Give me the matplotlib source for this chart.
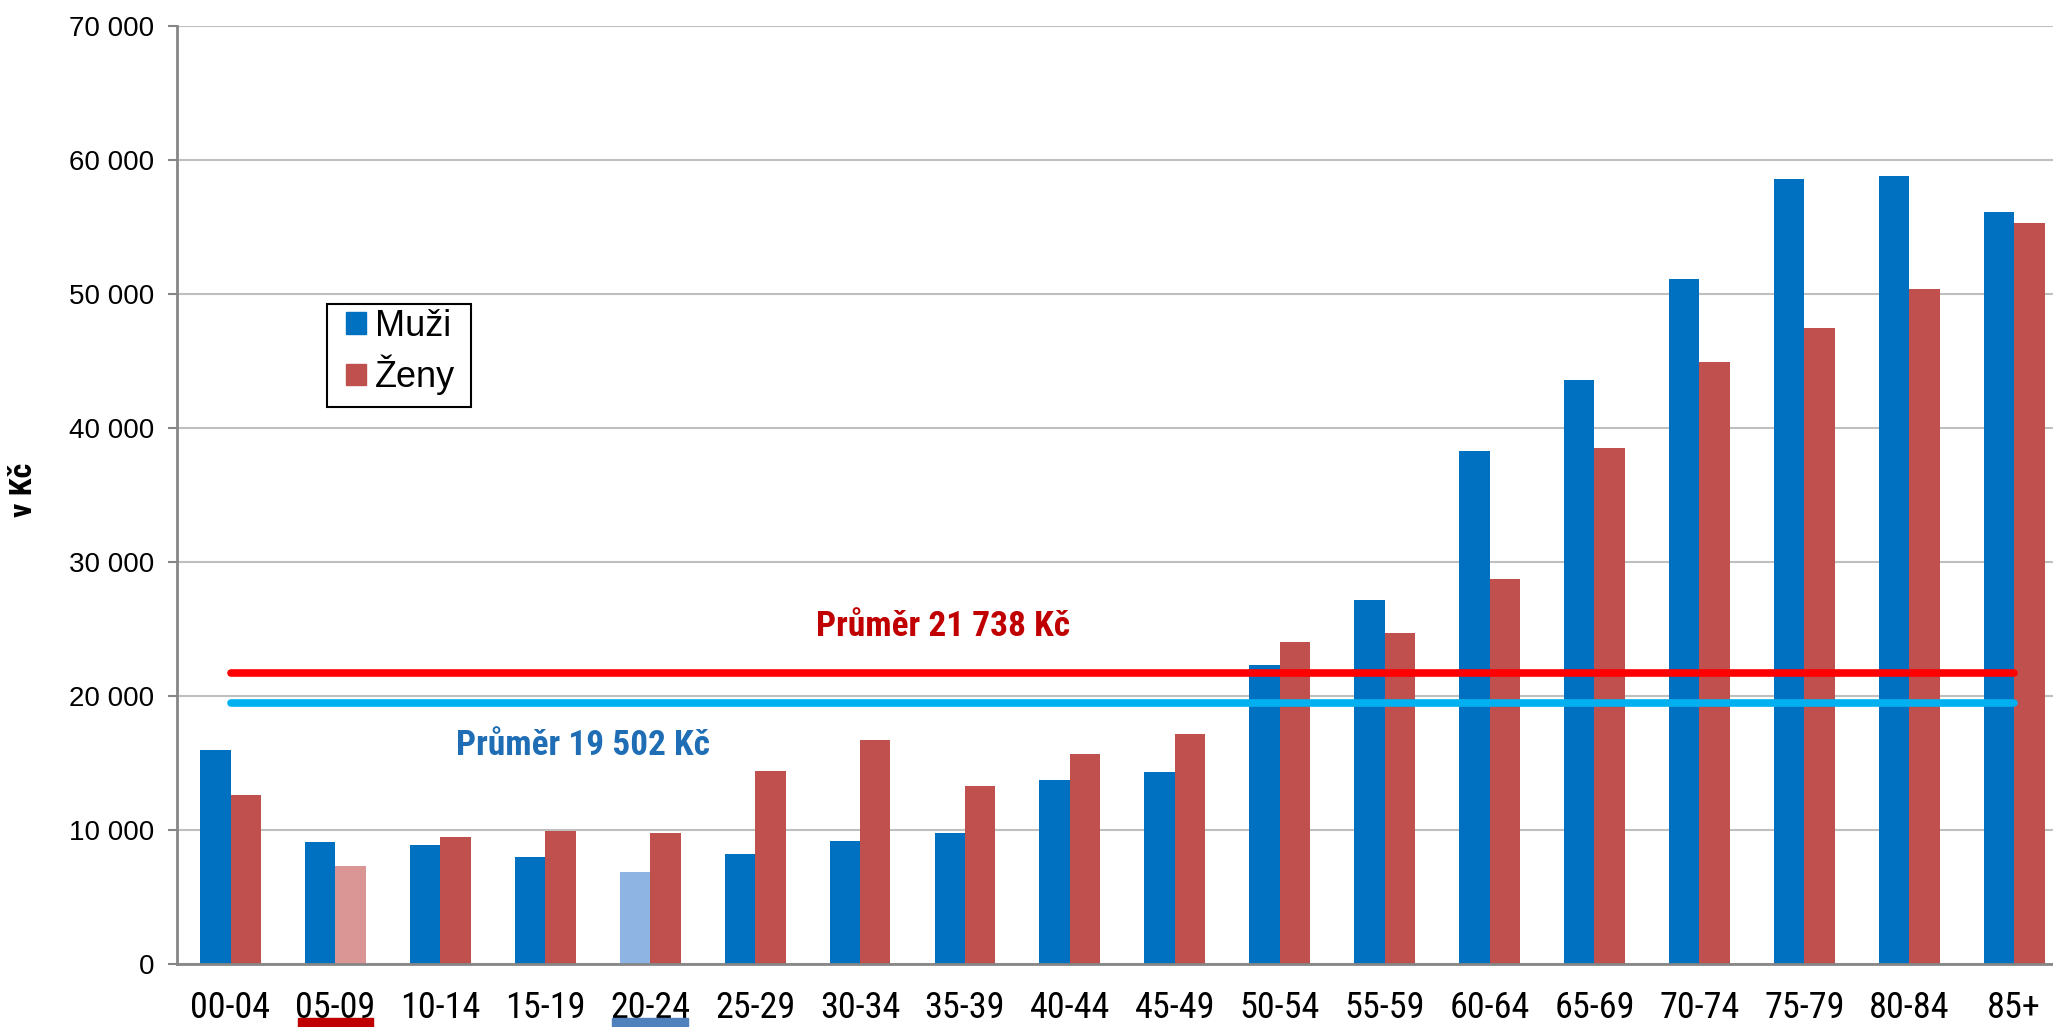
import numpy as np
import matplotlib
matplotlib.use("Agg")
import matplotlib.pyplot as plt
import matplotlib.transforms as mtransforms
from matplotlib.patches import Rectangle

# data
kategorie = ["00-04", "05-09", "10-14", "15-19", "20-24", "25-29", "30-34", "35-39",
             "40-44", "45-49", "50-54", "55-59", "60-64", "65-69", "70-74", "75-79",
             "80-84", "85+"]
muzi = [16000, 9100, 8900, 8000, 6900, 8200, 9200, 9800, 13700, 14300,
        22300, 27200, 38300, 43600, 51100, 58600, 58800, 56100]
zeny = [12600, 7300, 9500, 9900, 9800, 14400, 16700, 13300, 15700, 17200,
        24000, 24700, 28700, 38500, 44900, 47500, 50400, 55300]
prumer_zeny = 21738
prumer_muzi = 19502
yticks = [0, 10000, 20000, 30000, 40000, 50000, 60000, 70000]

MODRA = "#0070C0"
CERVENA = "#C0504D"
MODRA_SVETLA = "#8DB4E2"
CERVENA_SVETLA = "#DA9694"

NARROW = ["Liberation Sans Narrow", "Arial Narrow", "Roboto Condensed", "Archivo Narrow",
          "IBM Plex Sans Condensed", "DejaVu Sans"]
ARIAL = ["Liberation Sans", "Arimo", "DejaVu Sans"]

W, H = 2053, 1027
fig = plt.figure(figsize=(W / 100, H / 100), dpi=100)
ax = fig.add_axes([177 / W, (1027 - 964) / H, 1 - 177 / W, 938 / H])

x = np.arange(len(kategorie))
bw = 0.29
barvy_m = [MODRA_SVETLA if k == "20-24" else MODRA for k in kategorie]
barvy_z = [CERVENA_SVETLA if k == "05-09" else CERVENA for k in kategorie]
ax.bar(x - bw / 2, muzi, bw, color=barvy_m, zorder=2)
ax.bar(x + bw / 2, zeny, bw, color=barvy_z, zorder=2)

# prumery
ax.plot([x[0], x[-1]], [prumer_zeny] * 2, color="#FF0000", lw=5.5,
        solid_capstyle="round", zorder=3)
ax.plot([x[0], x[-1]], [prumer_muzi] * 2, color="#00B0F0", lw=5.5,
        solid_capstyle="round", zorder=3)
ax.text(6.79, 25200, "Průměr 21 738 Kč", color="#C00000", fontsize=25.5,
        fontweight="bold", family=NARROW, ha="center", va="center")
ax.text(3.36, 16270, "Průměr 19 502 Kč", color="#1F6EB5", fontsize=25.5,
        fontweight="bold", family=NARROW, ha="center", va="center")

ax.set_xlim(-0.51, 17.37)
ax.set_ylim(0, 70000)
ax.set_yticks(yticks)
ax.set_yticklabels([f"{v:,}".replace(",", " ") for v in yticks])
ax.set_xticks(x)
ax.set_xticklabels(kategorie)
ax.tick_params(axis="x", length=0, pad=19, labelsize=26)
ax.tick_params(axis="y", length=6.5, width=1.5, color="#868686", pad=10, labelsize=20)
for lab in ax.get_xticklabels():
    lab.set_family(NARROW)
for lab in ax.get_yticklabels():
    lab.set_family(ARIAL)
ax.grid(axis="y", color="#BFBFBF", lw=1.5, zorder=0)
ax.set_axisbelow(True)
for s in ["top", "right"]:
    ax.spines[s].set_visible(False)
for s in ["left", "bottom"]:
    ax.spines[s].set_color("#868686")
    ax.spines[s].set_linewidth(2)

ax.set_ylabel("v Kč", family=NARROW, fontweight="bold", fontsize=23)
ax.yaxis.set_label_coords((38 - 177) / (W - 177), (964 - 490) / 938)

# podtrzeni popisku
tr = mtransforms.blended_transform_factory(ax.transData, fig.transFigure)
for idx, c in [(1, "#C00000"), (4, "#4F81BD")]:
    ax.add_patch(Rectangle((x[idx] - 0.36, 0), 0.72, 9 / H, transform=tr,
                           color=c, clip_on=False))

# legenda bez ramecku + vlastni ramecek
h1 = Rectangle((0, 0), 1, 1, color=MODRA)
h2 = Rectangle((0, 0), 1, 1, color=CERVENA)
leg = ax.legend([h1, h2], ["Muži", "Ženy"], loc="upper left",
                bbox_to_anchor=(346 / W, 1 - 309 / H), bbox_transform=fig.transFigure,
                borderaxespad=0, prop={"family": ARIAL, "size": 26},
                handlelength=0.55, handleheight=0.55, handletextpad=0.25,
                labelspacing=0.3, borderpad=0, frameon=False)
fig.patches.append(Rectangle((327 / W, 1 - 407 / H), 144 / W, 103 / H,
                             transform=fig.transFigure, fill=False,
                             edgecolor="black", lw=1.5, zorder=5))

fig.savefig("out.png", dpi=100)
